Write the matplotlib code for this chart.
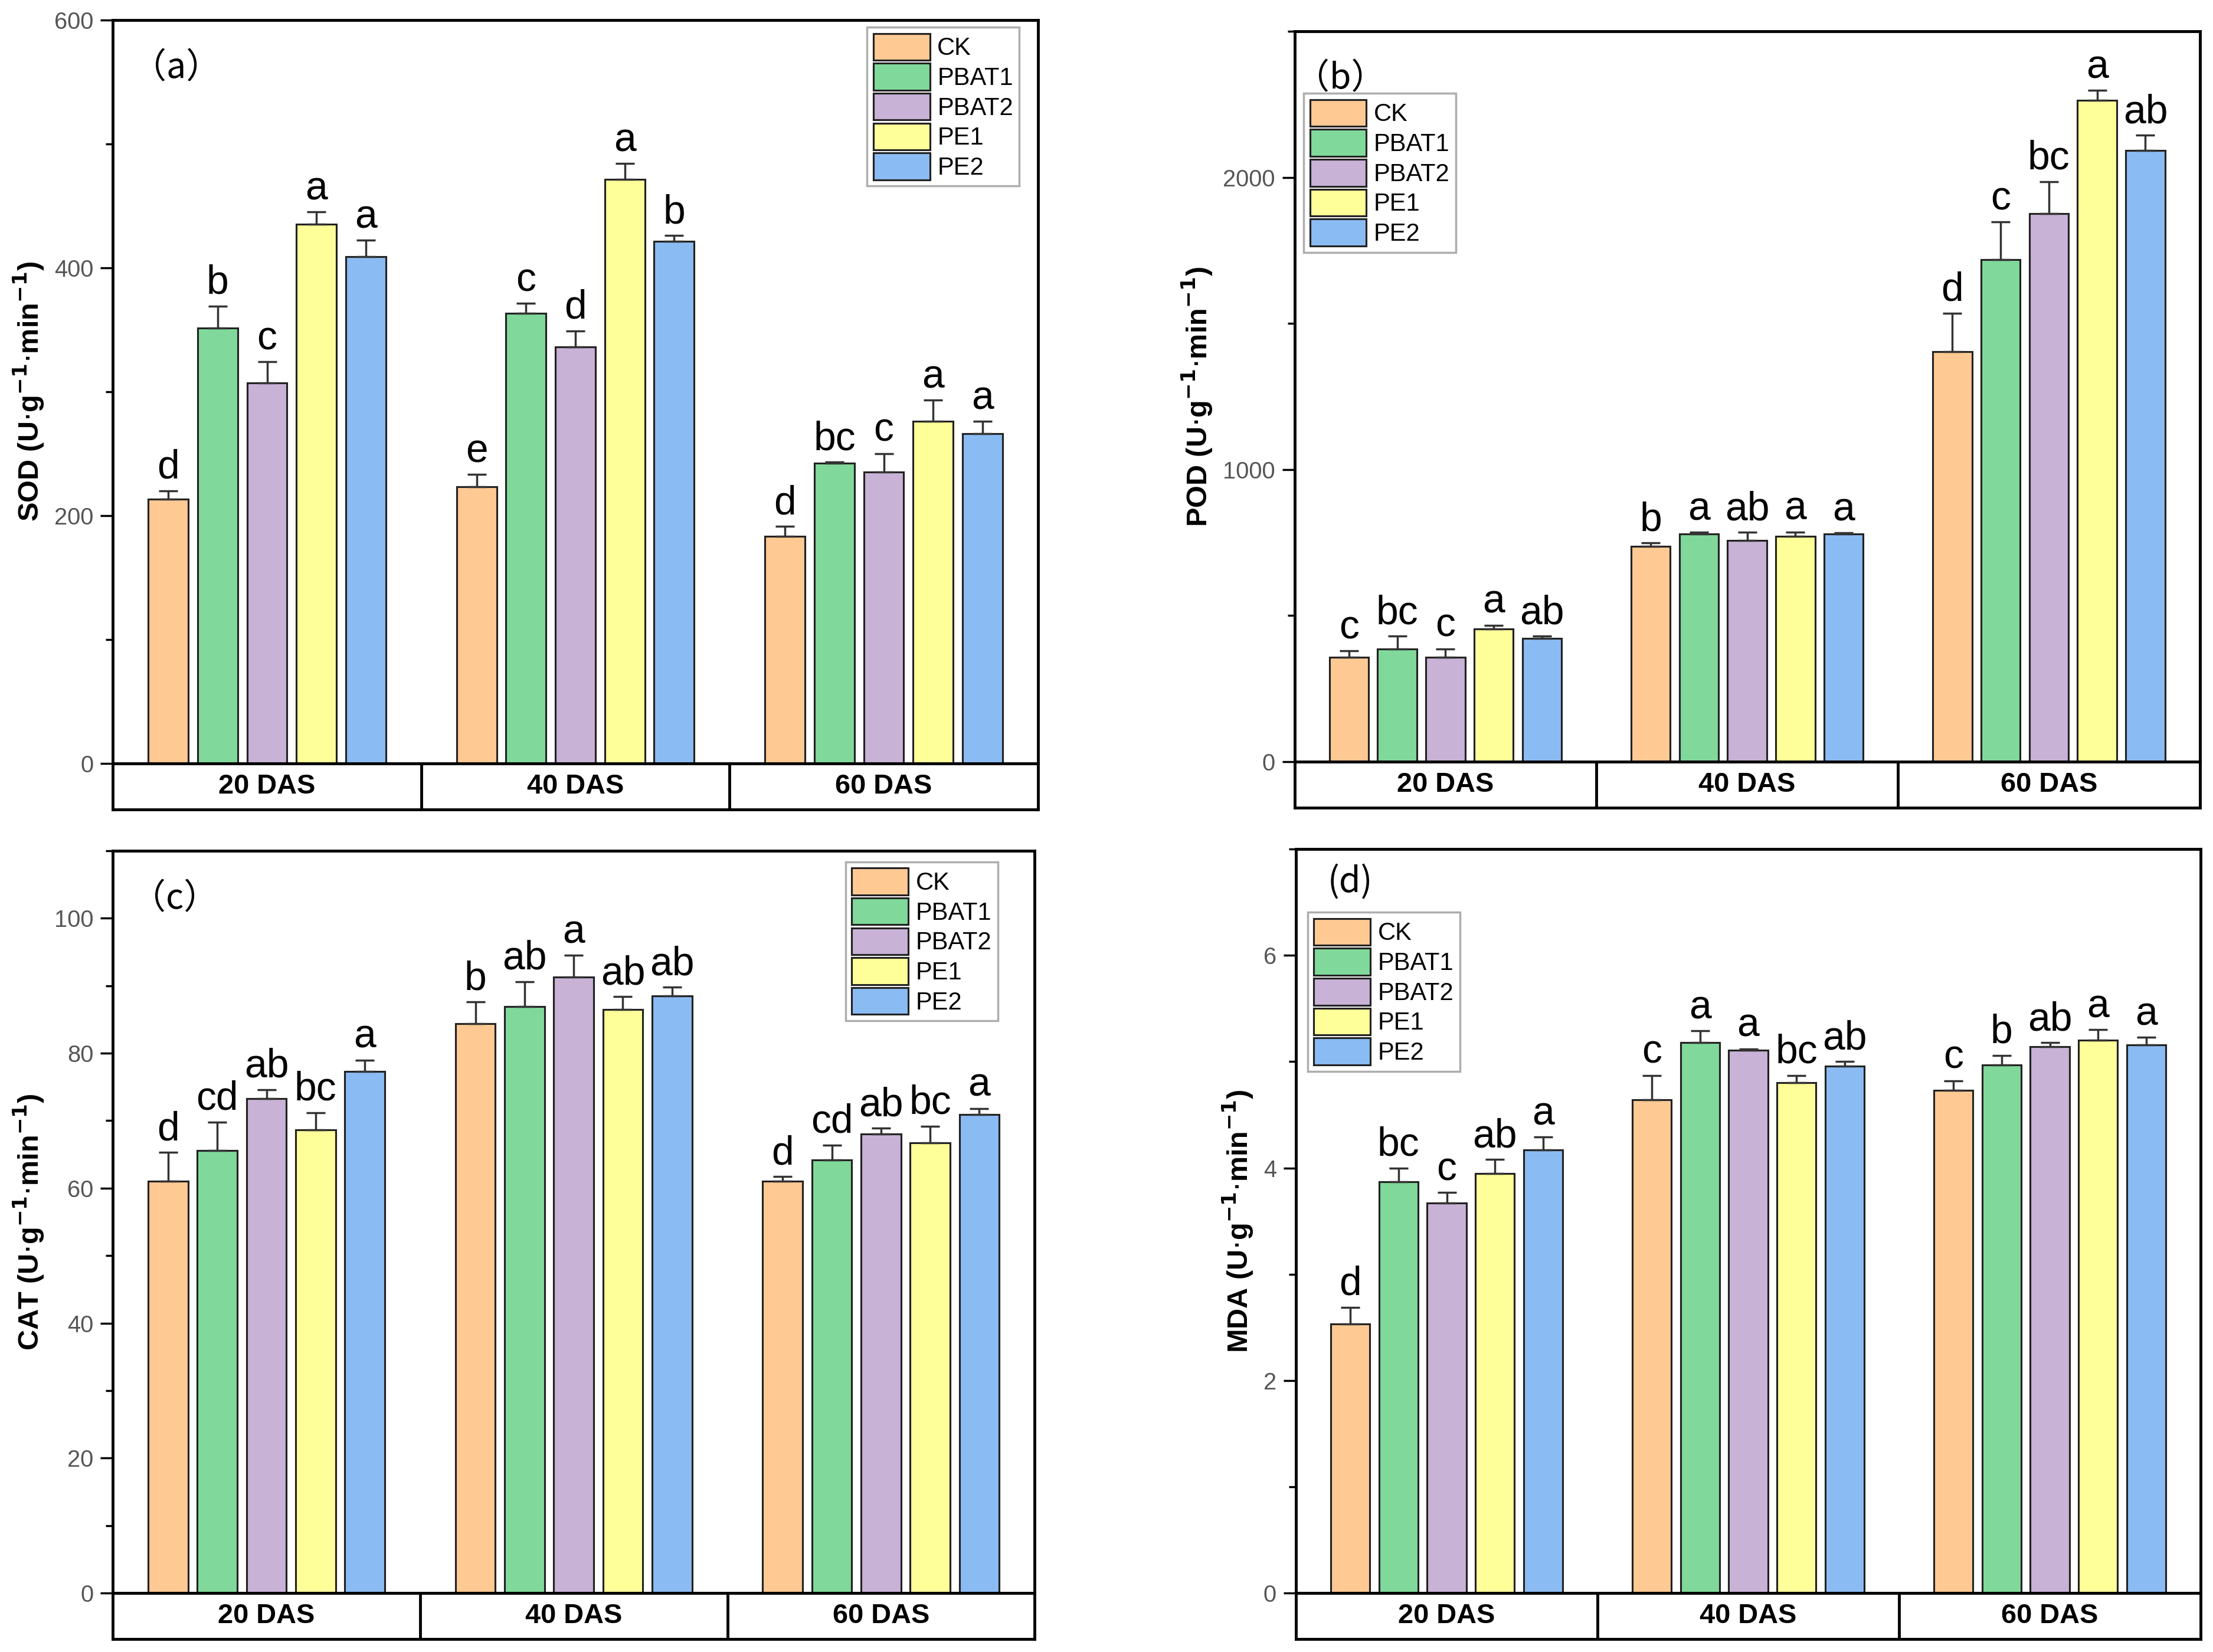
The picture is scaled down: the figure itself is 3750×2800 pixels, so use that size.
import numpy as np
import matplotlib
matplotlib.use('Agg')
import matplotlib.pyplot as plt
from matplotlib import font_manager
from matplotlib.ticker import MultipleLocator

# ============ FONTS ============
names = {f.name for f in font_manager.fontManager.ttflist}
narrow = 'Liberation Sans Narrow' if 'Liberation Sans Narrow' in names else 'Liberation Sans'
plt.rcParams['font.family'] = ['Liberation Sans', 'DejaVu Sans']

# ============ DATA ============
stages = ['20 DAS', '40 DAS', '60 DAS']
treatments = ['CK', 'PBAT1', 'PBAT2', 'PE1', 'PE2']
colors = ['#FFC993', '#80D99A', '#C8B2D6', '#FFFF99', '#8BBBF3']

# rows = treatments, columns = stages
sod = [[213, 223, 183], [351, 363, 242], [307, 336, 235], [435, 471, 276], [409, 421, 266]]
sod_err = [[7, 10, 8], [18, 8, 1], [17, 13, 15], [10, 13, 17], [13, 5, 10]]
sod_sig = [['d', 'e', 'd'], ['b', 'c', 'bc'], ['c', 'd', 'c'], ['a', 'a', 'a'], ['a', 'b', 'a']]

pod = [[357, 736, 1404], [386, 779, 1718], [357, 758, 1876], [454, 772, 2264], [422, 779, 2092]]
pod_err = [[22, 13, 131], [43, 6, 129], [29, 27, 110], [13, 14, 34], [7, 4, 52]]
pod_sig = [['c', 'b', 'd'], ['bc', 'a', 'c'], ['c', 'ab', 'bc'], ['a', 'a', 'a'], ['ab', 'a', 'ab']]

cat = [[61.0, 84.4, 61.0], [65.6, 86.9, 64.2], [73.3, 91.3, 68.0], [68.6, 86.5, 66.7], [77.3, 88.5, 70.9]]
cat_err = [[4.3, 3.2, 0.7], [4.2, 3.7, 2.2], [1.3, 3.2, 0.9], [2.6, 1.9, 2.5], [1.7, 1.3, 0.9]]
cat_sig = [['d', 'b', 'd'], ['cd', 'ab', 'cd'], ['ab', 'a', 'ab'], ['bc', 'ab', 'bc'], ['a', 'ab', 'a']]

mda = [[2.53, 4.64, 4.73], [3.87, 5.18, 4.97], [3.67, 5.11, 5.14], [3.95, 4.80, 5.20], [4.17, 4.96, 5.16]]
mda_err = [[0.16, 0.23, 0.09], [0.13, 0.11, 0.09], [0.10, 0.01, 0.04], [0.13, 0.07, 0.10], [0.12, 0.04, 0.07]]
mda_sig = [['d', 'c', 'c'], ['bc', 'a', 'b'], ['c', 'a', 'ab'], ['ab', 'bc', 'a'], ['a', 'ab', 'a']]

# ============ PANELS ============
panels = [
    dict(vals=sod, err=sod_err, sig=sod_sig, ylabel='SOD', ymax=600, major=200, minor=100,
         tag='（a）', tagpos=(0.02, 0.935), rect=[0.051, 0.538, 0.418, 0.450],
         leg=dict(loc='upper right', bbox_to_anchor=(0.98, 0.99))),
    dict(vals=pod, err=pod_err, sig=pod_sig, ylabel='POD', ymax=2500, major=1000, minor=500,
         tag='（b）', tagpos=(0.0, 0.935), rect=[0.585, 0.539, 0.409, 0.442],
         leg=dict(loc='upper left', bbox_to_anchor=(0.01, 0.915))),
    dict(vals=cat, err=cat_err, sig=cat_sig, ylabel='CAT', ymax=110, major=20, minor=10,
         tag='（c）', tagpos=(0.02, 0.935), rect=[0.051, 0.0357, 0.4165, 0.4493],
         leg=dict(loc='upper right', bbox_to_anchor=(0.96, 0.985))),
    dict(vals=mda, err=mda_err, sig=mda_sig, ylabel='MDA', ymax=7, major=2, minor=1,
         tag='(d)', tagpos=(0.035, 0.955), rect=[0.5856, 0.0357, 0.4088, 0.4503],
         leg=dict(loc='upper left', bbox_to_anchor=(0.013, 0.915))),
]

fig = plt.figure(figsize=(15, 11.2), dpi=250)
x = np.arange(len(stages))
step, width = 0.16, 0.13
strip_h = 0.028

for p in panels:
    l, b, w, h = p['rect']
    ax = fig.add_axes([l, b, w, h])
    vals = np.array(p['vals'])
    errs = np.array(p['err'])
    for j, name in enumerate(treatments):
        xs = x + (j - 2) * step
        ax.bar(xs, vals[j], width, color=colors[j], edgecolor='#222222', linewidth=0.9,
               label=name, zorder=2)
        ax.errorbar(xs, vals[j], yerr=[np.zeros(len(x)), errs[j]], fmt='none',
                    ecolor='#333333', elinewidth=1.0, capsize=4.5, capthick=1.0, zorder=3)
        for k in range(len(x)):
            ax.annotate(p['sig'][j][k], (xs[k], vals[j][k] + errs[j][k]),
                        xytext=(0, 2), textcoords='offset points', ha='center', va='bottom',
                        fontsize=19.5, family=narrow)
    ax.set_xlim(-0.5, 2.5)
    ax.set_ylim(0, p['ymax'])
    ax.set_xticks([])
    ax.yaxis.set_major_locator(MultipleLocator(p['major']))
    ax.yaxis.set_minor_locator(MultipleLocator(p['minor']))
    ax.tick_params(axis='y', which='major', direction='out', length=6, width=1.0,
                   labelsize=11.5, labelcolor='#555555')
    ax.tick_params(axis='y', which='minor', direction='out', length=3.5, width=1.0)
    for lab in ax.get_yticklabels():
        lab.set_family(narrow)
    for s in ax.spines.values():
        s.set_linewidth(1.4)
    ax.set_ylabel(p['ylabel'] + r' (U$\cdot$g$^{\mathbf{-1}}$$\cdot$min$^{\mathbf{-1}}$)',
                  fontsize=14, fontweight='bold', labelpad=4)
    ax.text(p['tagpos'][0], p['tagpos'][1], p['tag'], transform=ax.transAxes,
            fontsize=17, va='center', ha='left',
            family=['Noto Sans CJK TC', 'Liberation Sans', 'DejaVu Sans'])
    leg = ax.legend(**p['leg'], frameon=True, fancybox=False,
                    handlelength=2.3, handleheight=1.3, labelspacing=0.12,
                    handletextpad=0.3, borderpad=0.25, borderaxespad=0.0,
                    prop={'family': narrow, 'size': 12})
    leg.get_frame().set_edgecolor('#999999')
    leg.get_frame().set_linewidth(1.0)

    # category strip below the axis
    sx = fig.add_axes([l, b - strip_h, w, strip_h])
    sx.set_xlim(-0.5, 2.5)
    sx.set_ylim(0, 1)
    sx.set_xticks([])
    sx.set_yticks([])
    for s in sx.spines.values():
        s.set_linewidth(1.4)
    for pos in x[:-1] + 0.5:
        sx.axvline(pos, color='black', linewidth=1.4)
    for k, st in enumerate(stages):
        sx.text(k, 0.5, st, ha='center', va='center', fontsize=13.5, fontweight='bold',
                family=narrow)

plt.savefig('out.png', dpi=250)
